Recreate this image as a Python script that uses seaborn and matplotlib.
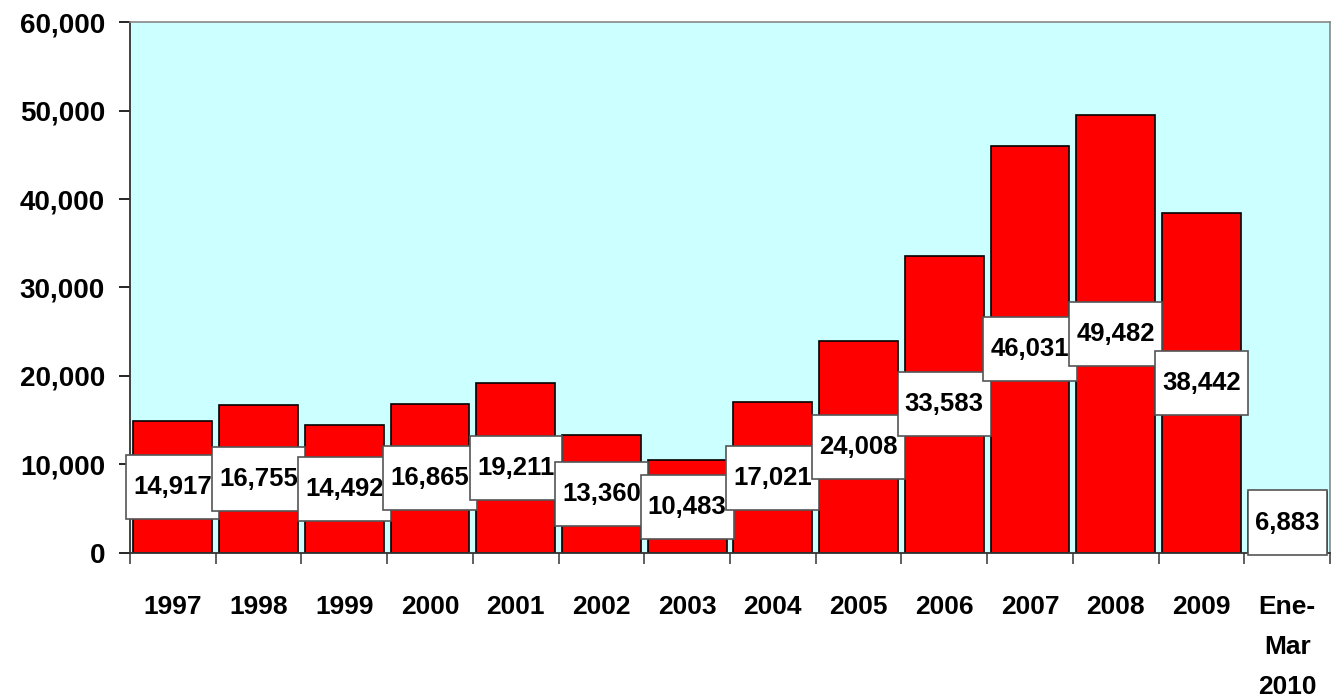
import matplotlib
matplotlib.use("Agg")
import matplotlib.pyplot as plt
import matplotlib.ticker as mticker
from matplotlib.path import Path as MPath
import numpy as np
import seaborn as sns

# ── Data ─────────────────────────────────────────────────────────────────────
CATEGORIES = ["1997", "1998", "1999", "2000", "2001", "2002", "2003",
              "2004", "2005", "2006", "2007", "2008", "2009", "Ene-\nMar\n2010"]
VALUES = [14917, 16755, 14492, 16865, 19211, 13360, 10483,
          17021, 24008, 33583, 46031, 49482, 38442, 6883]
Y_TICKS = [0, 10000, 20000, 30000, 40000, 50000, 60000]

sns.set_theme(style="white")
plt.rcParams["font.family"] = ["Liberation Sans", "DejaVu Sans"]
plt.rcParams["font.weight"] = "bold"
plt.rcParams.update({"text.color": "black", "xtick.color": "black",
                     "ytick.color": "black", "axes.labelcolor": "black"})


def label_box(x0, y0, width, height, mutation_size):
    """Square box with more padding top/bottom than left/right (Excel look)."""
    px, py = 0.28 * mutation_size, 0.78 * mutation_size
    x0, y0 = x0 - px, y0 - py
    x1, y1 = x0 + width + 2 * px, y0 + height + 2 * py
    return MPath([(x0, y0), (x1, y0), (x1, y1), (x0, y1), (x0, y0)], closed=True)


fig, ax = plt.subplots(figsize=(13.32, 6.99), dpi=100)
fig.subplots_adjust(left=0.0976, right=0.9985, top=0.9685, bottom=0.2089)
ax.set_facecolor("#CCFFFF")

sns.barplot(x=CATEGORIES, y=VALUES, color="#FF0000", edgecolor="black",
            linewidth=1.2, width=0.92, saturation=1, ax=ax)

# value labels in white boxes at the middle of each bar
for i, v in enumerate(VALUES):
    ax.text(i, v / 2, f"{v:,}", ha="center", va="center",
            fontsize=18.5, fontweight="bold", color="black",
            bbox=dict(boxstyle=label_box, facecolor="white",
                      edgecolor="#555555", linewidth=1.2))

ax.set_ylim(0, 60000)
ax.set_xlim(-0.5, len(CATEGORIES) - 0.5)
ax.set_yticks(Y_TICKS)
ax.yaxis.set_major_formatter(mticker.StrMethodFormatter("{x:,.0f}"))
ax.tick_params(axis="y", which="major", left=True, length=8, width=1.2,
               color="black", labelcolor="black", labelsize=20, pad=10)
for lbl in ax.get_yticklabels():
    lbl.set_fontweight("bold")

# category labels centred, tick marks on the category boundaries
ax.set_xticks(range(len(CATEGORIES)))
ax.set_xticklabels(CATEGORIES, fontsize=19, fontweight="bold",
                   linespacing=1.85, va="top")
ax.tick_params(axis="x", which="major", length=0, pad=30, labelcolor="black")
ax.set_xticks(np.arange(-0.5, len(CATEGORIES)), minor=True)
ax.tick_params(axis="x", which="minor", bottom=True, length=8, width=1.2,
               color="#444444")

for side in ["left", "bottom"]:
    ax.spines[side].set_color("#333333")
    ax.spines[side].set_linewidth(1.3)
for side in ["top", "right"]:
    ax.spines[side].set_color("#888888")
    ax.spines[side].set_linewidth(1.2)

ax.set_xlabel("")
ax.set_ylabel("")
fig.savefig("out.png", dpi=100)
